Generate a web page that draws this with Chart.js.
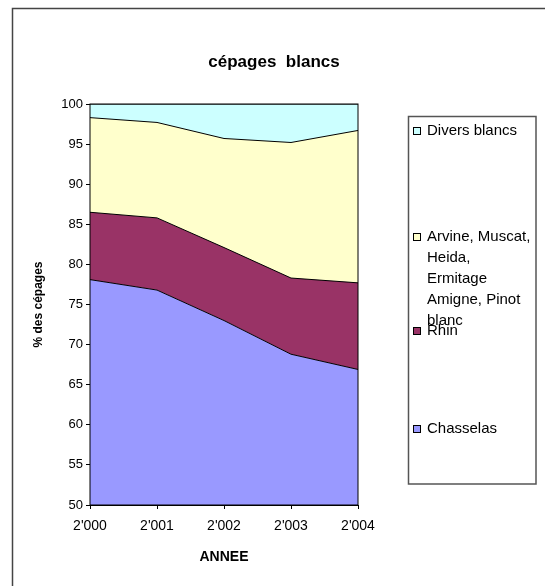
<!DOCTYPE html>
<html>
    <head>
        <meta charset="UTF-8">
        <title>cépages blancs</title>
        <style>
            html, body { margin: 0; padding: 0; background: #fff; }
            #wrap { width: 545px; height: 586px; }
        </style>
        <script src="https://cdn.jsdelivr.net/npm/chart.js"></script>
    </head>
    <body>
        <div id="wrap"><canvas id="cepages"></canvas></div>
        <script>
            // données (% des cépages, empilés)
            const annees = ["2'000", "2'001", "2'002", "2'003", "2'004"];
            const chasselas = [78.1, 76.8, 73.0, 68.8, 66.9];
            const rhin = [8.4, 9.0, 9.1, 9.5, 10.8];
            const arvine = [11.8, 11.9, 13.6, 16.9, 19.0];
            const divers = [1.7, 2.3, 4.3, 4.8, 3.3];
            const yTicks = [50, 55, 60, 65, 70, 75, 80, 85, 90, 95, 100];

            const noms = ['Chasselas', 'Rhin', 'Arvine, Muscat, Heida, Ermitage Amigne, Pinot blanc', 'Divers blancs'];
            const couleurs = ['#9999FF', '#993366', '#FFFFCC', '#CCFFFF'];
            const titre = 'cépages  blancs';

            // légende façon Excel : lignes et hauteurs fixes
            const legende = [
                { ds: 3, y: 131, lignes: ['Divers blancs'] },
                { ds: 2, y: 237, lignes: ['Arvine, Muscat,', 'Heida,', 'Ermitage', 'Amigne, Pinot', 'blanc'] },
                { ds: 1, y: 331, lignes: ['Rhin'] },
                { ds: 0, y: 429, lignes: ['Chasselas'] }
            ];

            const police = '"Liberation Sans", Arial, sans-serif';

            const cadres = {
                id: 'cadres',
                afterDraw(chart) {
                    const ctx = chart.ctx;
                    const a = chart.chartArea;
                    ctx.save();
                    // cadre extérieur
                    ctx.strokeStyle = '#444';
                    ctx.lineWidth = 1.5;
                    ctx.beginPath();
                    ctx.moveTo(12.5, 590);
                    ctx.lineTo(12.5, 8.5);
                    ctx.lineTo(550, 8.5);
                    ctx.stroke();
                    // titre
                    ctx.fillStyle = '#000';
                    ctx.font = 'bold 17px ' + police;
                    ctx.textAlign = 'center';
                    ctx.textBaseline = 'middle';
                    ctx.fillText(titre, 274, 62);
                    ctx.textAlign = 'left';
                    // cadre du tracé
                    ctx.strokeStyle = '#000';
                    ctx.lineWidth = 1;
                    ctx.strokeRect(a.left, a.top, a.right - a.left, a.bottom - a.top);
                    // légende
                    ctx.strokeStyle = '#555';
                    ctx.lineWidth = 1.5;
                    ctx.strokeRect(408.5, 116.5, 127.5, 367.5);
                    ctx.font = '15px ' + police;
                    legende.forEach(function(item) {
                        const ds = chart.data.datasets[item.ds];
                        ctx.fillStyle = ds.backgroundColor;
                        ctx.fillRect(413, item.y - 4, 7, 7);
                        ctx.strokeStyle = '#000';
                        ctx.lineWidth = 1;
                        ctx.strokeRect(413.5, item.y - 3.5, 7, 7);
                        ctx.fillStyle = '#000';
                        item.lignes.forEach(function(t, i) {
                            ctx.fillText(t, 427, item.y + i * 21);
                        });
                    });
                    ctx.restore();
                }
            };

            const series = [chasselas, rhin, arvine, divers];
            const datasets = series.map(function(s, i) {
                return {
                    label: noms[i],
                    data: s,
                    backgroundColor: couleurs[i],
                    borderColor: '#000',
                    borderWidth: 1,
                    pointRadius: 0,
                    tension: 0,
                    fill: i === 0 ? 'start' : '-1'
                };
            });

            new Chart(document.getElementById('cepages'), {
                type: 'line',
                data: { labels: annees, datasets: datasets },
                options: {
                    responsive: true,
                    maintainAspectRatio: false,
                    animation: false,
                    layout: { padding: { top: 104, left: 12, right: 187, bottom: 0 } },
                    plugins: {
                        legend: { display: false },
                        tooltip: { enabled: false },
                        title: { display: false }
                    },
                    scales: {
                        x: {
                            stacked: true,
                            offset: false,
                            afterFit: function(s) { s.height = 81; },
                            grid: { display: true, drawOnChartArea: false, tickLength: 4, color: '#000' },
                            border: { color: '#000' },
                            ticks: { color: '#000', font: { family: police, size: 14 }, padding: 9, maxRotation: 0 },
                            title: {
                                display: true, text: 'ANNEE', color: '#000',
                                font: { family: police, size: 14, weight: 'bold' },
                                padding: { top: 0, bottom: 20 }
                            }
                        },
                        y: {
                            stacked: true,
                            min: 50,
                            max: 100,
                            afterFit: function(s) { s.width = 78; },
                            afterBuildTicks: function(s) { s.ticks = yTicks.map(function(v) { return { value: v }; }); },
                            grid: { display: true, drawOnChartArea: false, tickLength: 4, color: '#000' },
                            border: { color: '#000' },
                            ticks: { color: '#000', font: { family: police, size: 13 }, padding: 3 },
                            title: {
                                display: true, text: '% des cépages', color: '#000',
                                font: { family: police, size: 12, weight: 'bold' },
                                padding: { top: 19, bottom: 0 }
                            }
                        }
                    }
                },
                plugins: [cadres]
            });
        </script>
    </body>
</html>
